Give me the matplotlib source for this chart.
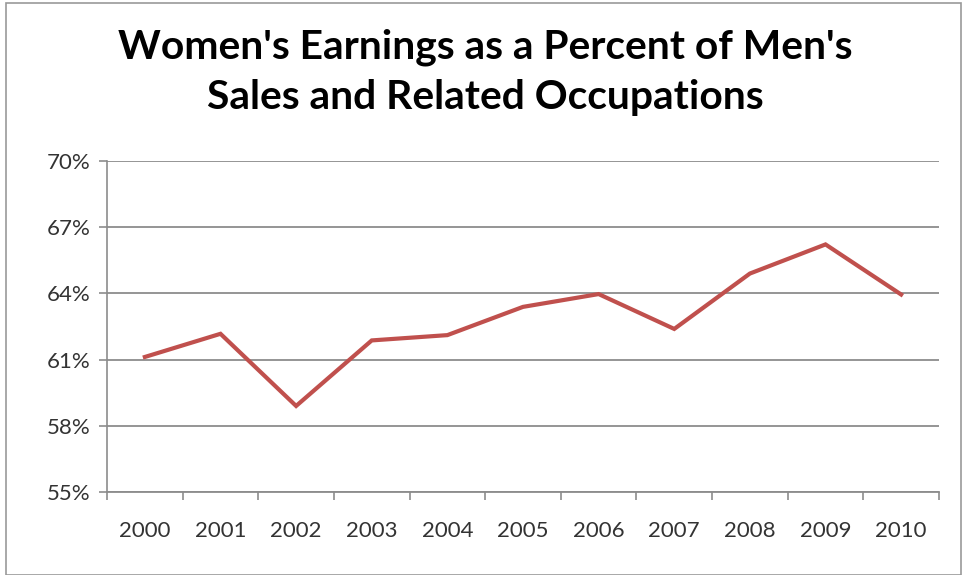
import matplotlib.pyplot as plt
from matplotlib.ticker import FixedLocator, NullFormatter
from matplotlib.patches import Rectangle

years = ['2000', '2001', '2002', '2003', '2004', '2005',
         '2006', '2007', '2008', '2009', '2010']
pct = [61.12, 62.17, 58.9, 61.87, 62.11, 63.39, 63.97, 62.39, 64.9, 66.22, 63.95]
yticks = [55, 58, 61, 64, 67, 70]

plt.rcParams['font.family'] = ['Lato', 'DejaVu Sans']

fig = plt.figure(figsize=(9.67, 5.75), dpi=100)
ax = fig.add_axes([0.1107, 0.1443, 0.8603, 0.5757])

x = list(range(len(years)))
ax.plot(x, pct, color='#C0504D', lw=3.0, solid_joinstyle='miter', zorder=3)

ax.set_xlim(-0.5, len(years) - 0.5)
ax.set_ylim(55, 70)
ax.set_yticks(yticks)
ax.set_yticklabels(['{}%'.format(v) for v in yticks], fontsize=16, color='#333333')
ax.set_xticks(x)
ax.set_xticklabels(years, fontsize=16, color='#333333')
ax.xaxis.set_minor_locator(FixedLocator([i - 0.5 for i in range(len(years) + 1)]))
ax.xaxis.set_minor_formatter(NullFormatter())
ax.tick_params(axis='x', which='major', length=0, pad=21)
ax.tick_params(axis='x', which='minor', length=6, color='#8c8c8c', width=1.2)
ax.tick_params(axis='y', length=6, color='#8c8c8c', width=1.2, pad=6)

ax.grid(axis='y', color='#8c8c8c', lw=1.3)
ax.set_axisbelow(True)
for s in ['top', 'right']:
    ax.spines[s].set_visible(False)
ax.spines['left'].set_color('#8c8c8c')
ax.spines['bottom'].set_color('#8c8c8c')
ax.spines['left'].set_linewidth(1.2)
ax.spines['bottom'].set_linewidth(1.3)

fig.text(0.502, 0.874, "Women's Earnings as a Percent of Men's\nSales and Related Occupations",
         ha='center', va='center', fontsize=29.3, fontweight='bold', linespacing=1.42)

fig.patches.append(Rectangle((0.006, 0.0), 0.988, 0.994, transform=fig.transFigure,
                             fill=False, edgecolor='#999999', lw=1.2))

fig.savefig('out.png', dpi=100)
